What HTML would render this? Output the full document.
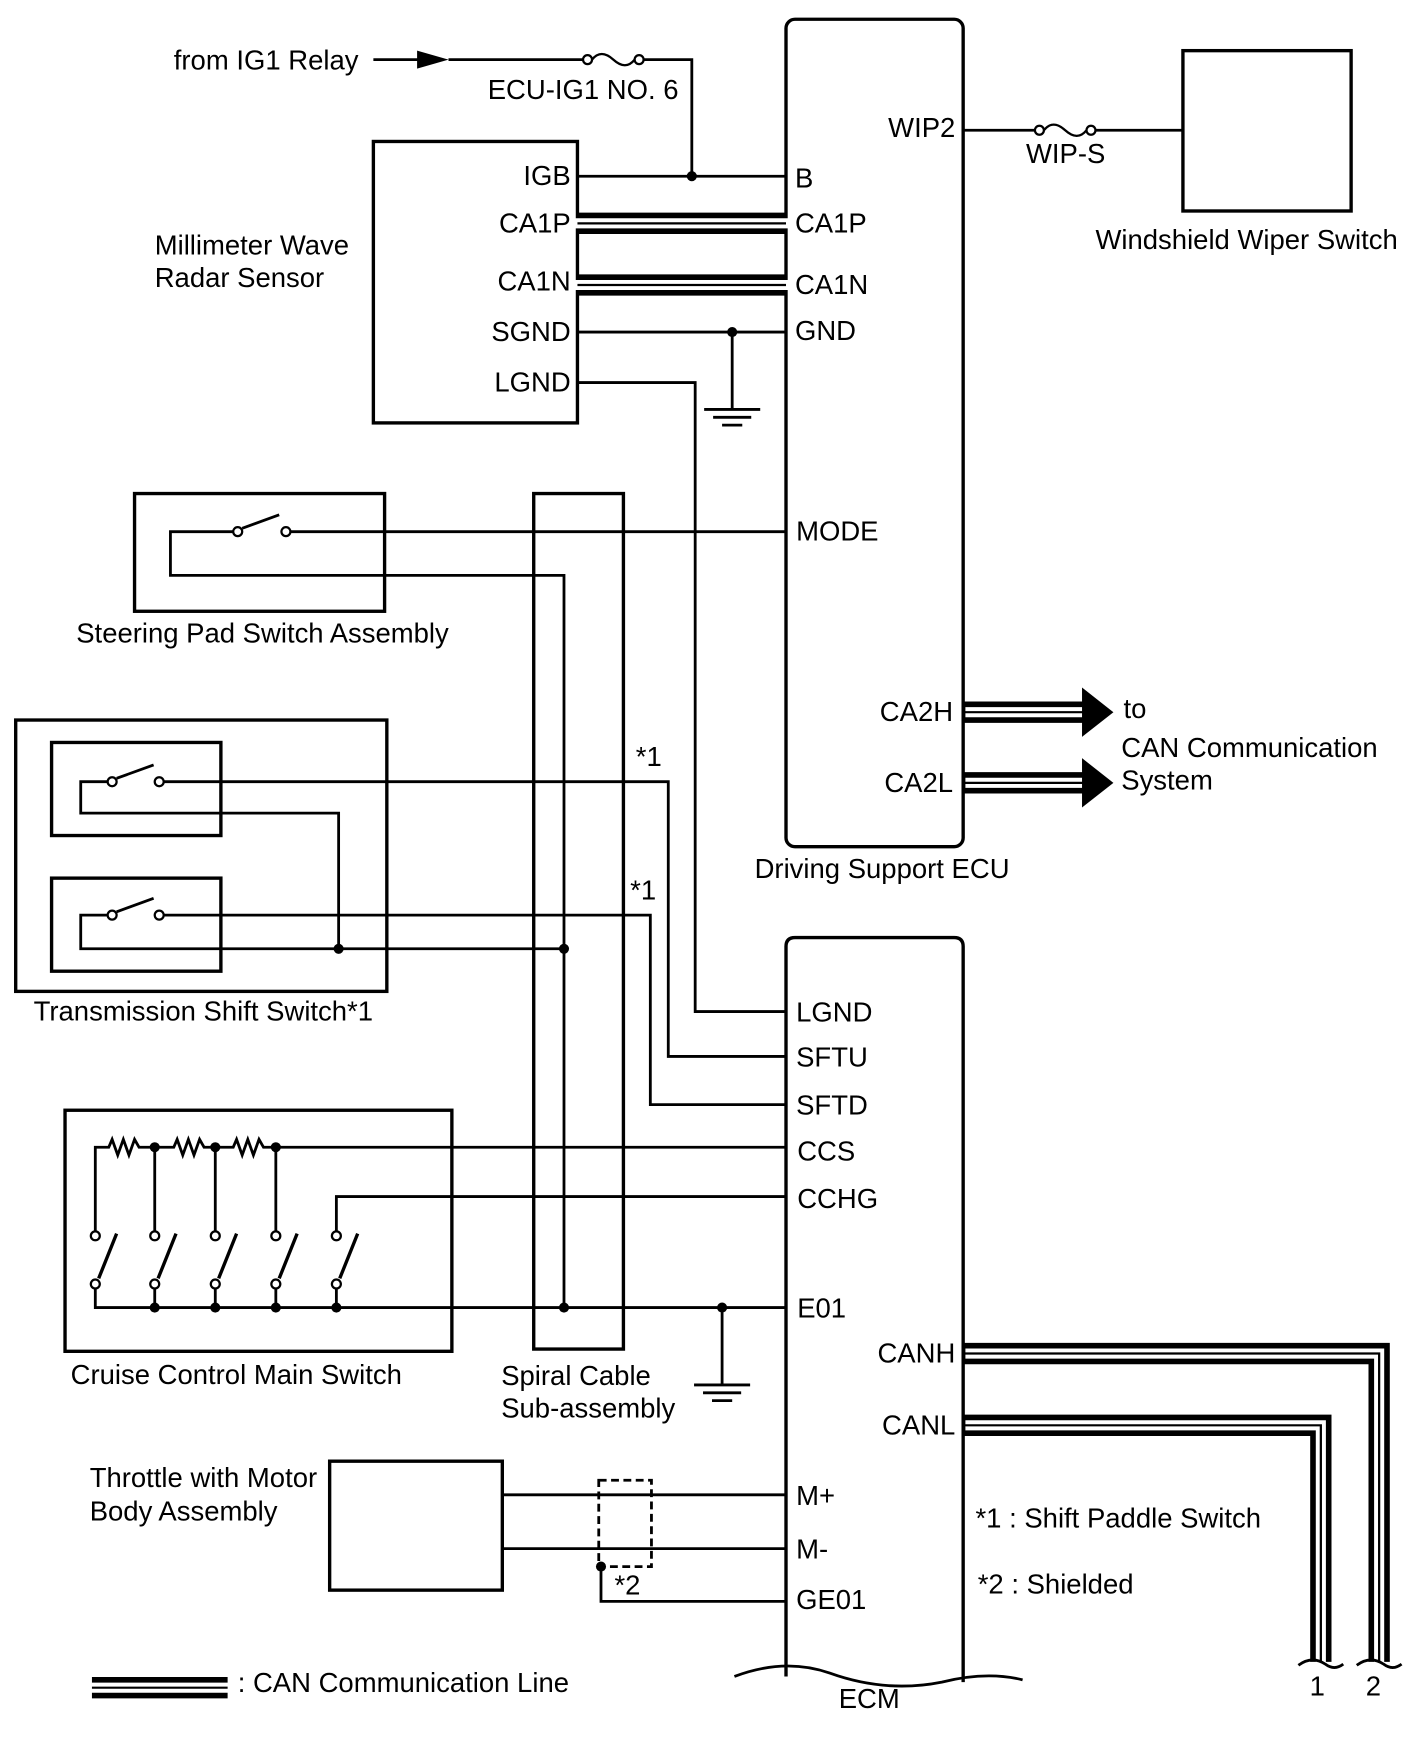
<!DOCTYPE html>
<html><head><meta charset="utf-8"><style>
html,body{margin:0;padding:0;background:#fff;}
svg{display:block;}
text{font-family:"Liberation Sans",Arial,sans-serif;font-size:24.5px;fill:#000;}
</style></head><body>
<svg width="1424" height="1763" viewBox="0 0 1270 1572" xmlns="http://www.w3.org/2000/svg">
<defs>
<g id="fuse"><circle cx="0" cy="0" r="4" fill="#fff" stroke="#000" stroke-width="2"/><circle cx="46" cy="0" r="4" fill="#fff" stroke="#000" stroke-width="2"/><path d="M4 0 Q12 -10 23 0 Q34 10 42 0" fill="none" stroke="#000" stroke-width="2"/></g>
</defs>
<g fill="none" stroke="#000" stroke-width="2.5">
<rect x="701" y="17" width="158" height="738" rx="8" stroke-width="3"/>
<path d="M701 1495 V844 Q701 836 709 836 H851 Q859 836 859 844 V1500" stroke-width="3"/>
<path d="M655 1495 Q700 1478 740 1492 Q790 1510 840 1500 Q880 1490 912 1498" stroke-width="2.5"/>
<rect x="333" y="126" width="182" height="251" stroke-width="3"/>
<rect x="1055" y="45" width="150" height="143" stroke-width="3"/>
<rect x="120" y="440" width="223" height="105" stroke-width="3"/>
<rect x="476" y="440" width="80" height="763" stroke-width="3"/>
<rect x="14" y="642" width="331" height="242" stroke-width="3"/>
<rect x="46" y="662" width="151" height="83" stroke-width="3"/>
<rect x="46" y="783" width="151" height="83" stroke-width="3"/>
<rect x="58" y="990" width="345" height="215" stroke-width="3"/>
<rect x="294" y="1303" width="154" height="115" stroke-width="3"/>
<rect x="534" y="1320" width="47" height="77" stroke-dasharray="7,4"/>

<path d="M333 53 H375"/>
<path d="M400 53 H520 M570 53 H617 V157"/>
<path d="M515 157 H701"/>
<path d="M859 116 H927 M973 116 H1055"/>
<path d="M515 296 H701 M653 296 V365"/>
<path d="M628 365 H678 M636 372 H670 M644 379 H662"/>
<path d="M515 341 H620 V902 H701"/>
<path d="M255 474 H701 M208 474 H152 V513 H503 V1166"/>
<path d="M216 471 L249 459"/>
<path d="M146 697 H596 V942 H701 M96 697 H72 V725 H302 V846"/>
<path d="M104 694 L137 682"/>
<path d="M146 816 H580 V985 H701 M96 816 H72 V846 H503"/>
<path d="M104 813 L137 801"/>
<path d="M85 1098 V1023 H97 l3 -7 l5 14 l5 -14 l5 14 l5 -14 l4 7 H155 l3 -7 l5 14 l5 -14 l5 14 l5 -14 l4 7 H208 l3 -7 l5 14 l5 -14 l5 14 l5 -14 l4 7 H701"/>
<path d="M138 1023 V1098 M192 1023 V1098 M246 1023 V1098"/>
<path d="M300 1098 V1067 H701"/>
<path d="M85 1149 V1166 H701 M138 1149 V1166 M192 1149 V1166 M246 1149 V1166 M300 1149 V1166"/>
<path d="M88 1140 L104 1100 M141 1140 L157 1100 M195 1140 L211 1100 M249 1140 L265 1100 M303 1140 L319 1100" stroke-width="3"/>
<path d="M644 1166 V1235 M619 1235 H669 M627 1242 H661 M635 1249 H653"/>
<path d="M448 1333 H701 M448 1381 H701 M536 1397 V1428 H701"/>
</g>
<polygon points="372,45 400,53 372,61" fill="#000"/>
<use href="#fuse" x="524" y="53"/>
<use href="#fuse" x="927" y="116"/>
<g fill="#fff" stroke="#000" stroke-width="2">
<circle cx="212" cy="474" r="4"/><circle cx="255" cy="474" r="4"/>
<circle cx="100" cy="697" r="4"/><circle cx="142" cy="697" r="4"/>
<circle cx="100" cy="816" r="4"/><circle cx="142" cy="816" r="4"/>
<circle cx="85" cy="1102" r="4"/><circle cx="138" cy="1102" r="4"/><circle cx="192" cy="1102" r="4"/><circle cx="246" cy="1102" r="4"/><circle cx="300" cy="1102" r="4"/>
<circle cx="85" cy="1145" r="4"/><circle cx="138" cy="1145" r="4"/><circle cx="192" cy="1145" r="4"/><circle cx="246" cy="1145" r="4"/><circle cx="300" cy="1145" r="4"/>
</g>
<g fill="#000">
<circle cx="617" cy="157" r="4.5"/><circle cx="653" cy="296" r="4.5"/>
<circle cx="302" cy="846" r="4.5"/><circle cx="503" cy="846" r="4.5"/>
<circle cx="138" cy="1023" r="4.5"/><circle cx="192" cy="1023" r="4.5"/><circle cx="246" cy="1023" r="4.5"/>
<circle cx="138" cy="1166" r="4.5"/><circle cx="192" cy="1166" r="4.5"/><circle cx="246" cy="1166" r="4.5"/><circle cx="300" cy="1166" r="4.5"/>
<circle cx="503" cy="1166" r="4.5"/><circle cx="644" cy="1166" r="4.5"/><circle cx="536" cy="1397" r="4.5"/>
</g>
<g fill="none" stroke-linejoin="miter">
<g stroke="#000" stroke-width="19"><path d="M515 199 H701"/><path d="M515 254 H701"/><path d="M859 635 H968"/><path d="M859 698 H968"/><path d="M859 1207 H1230 V1482"/><path d="M859 1271 H1178 V1482"/><path d="M82 1505 H203"/></g>
<g stroke="#fff" stroke-width="9"><path d="M513 199 H703"/><path d="M513 254 H703"/><path d="M861 635 H968"/><path d="M861 698 H968"/><path d="M861 1207 H1230 V1484"/><path d="M861 1271 H1178 V1484"/><path d="M80 1505 H205"/></g>
<g stroke="#000" stroke-width="2"><path d="M515 199 H701"/><path d="M515 254 H701"/><path d="M859 635 H968"/><path d="M859 698 H968"/><path d="M859 1207 H1230 V1482"/><path d="M859 1271 H1178 V1482"/><path d="M82 1505 H203"/></g>
</g>
<polygon points="965,613 993,635 965,657" fill="#000"/>
<polygon points="965,676 993,698 965,720" fill="#000"/>
<path d="M1158 1485 Q1170 1476 1182 1484 Q1190 1490 1198 1484 M1210 1485 Q1222 1476 1234 1484 Q1242 1490 1250 1484" fill="none" stroke="#000" stroke-width="2.5"/>
<text x="155" y="62">from IG1 Relay</text>
<text x="435" y="88">ECU-IG1 NO. 6</text>
<text x="915" y="145">WIP-S</text>
<text x="977" y="222">Windshield Wiper Switch</text>
<text x="138" y="227">Millimeter Wave</text>
<text x="138" y="256">Radar Sensor</text>
<g text-anchor="end">
<text x="509" y="165">IGB</text><text x="509" y="207">CA1P</text><text x="509" y="259">CA1N</text><text x="509" y="304">SGND</text><text x="509" y="349">LGND</text>
<text x="852" y="122">WIP2</text><text x="850" y="643">CA2H</text><text x="850" y="706">CA2L</text>
<text x="852" y="1215">CANH</text><text x="852" y="1279">CANL</text>
</g>
<text x="709" y="167">B</text><text x="709" y="207">CA1P</text><text x="709" y="262">CA1N</text><text x="709" y="303">GND</text>
<text x="710" y="482">MODE</text>
<text x="1002" y="640">to</text><text x="1000" y="675">CAN Communication</text><text x="1000" y="704">System</text>
<text x="673" y="783">Driving Support ECU</text>
<text x="68" y="573">Steering Pad Switch Assembly</text>
<text x="567" y="683">*1</text><text x="562" y="802">*1</text>
<text x="30" y="910">Transmission Shift Switch*1</text>
<text x="710" y="911">LGND</text><text x="710" y="951">SFTU</text><text x="710" y="994">SFTD</text><text x="711" y="1035">CCS</text><text x="711" y="1077">CCHG</text><text x="711" y="1175">E01</text>
<text x="710" y="1342">M+</text><text x="710" y="1390">M-</text><text x="710" y="1435">GE01</text>
<text x="63" y="1234">Cruise Control Main Switch</text>
<text x="447" y="1235">Spiral Cable</text><text x="447" y="1264">Sub-assembly</text>
<text x="80" y="1326">Throttle with Motor</text><text x="80" y="1356">Body Assembly</text>
<text x="548" y="1422">*2</text>
<text x="870" y="1362">*1 : Shift Paddle Switch</text>
<text x="872" y="1421">*2 : Shielded</text>
<text x="212" y="1509">: CAN Communication Line</text>
<text x="748" y="1523">ECM</text>
<text x="1168" y="1512">1</text><text x="1218" y="1512">2</text>
</svg>
</body></html>
